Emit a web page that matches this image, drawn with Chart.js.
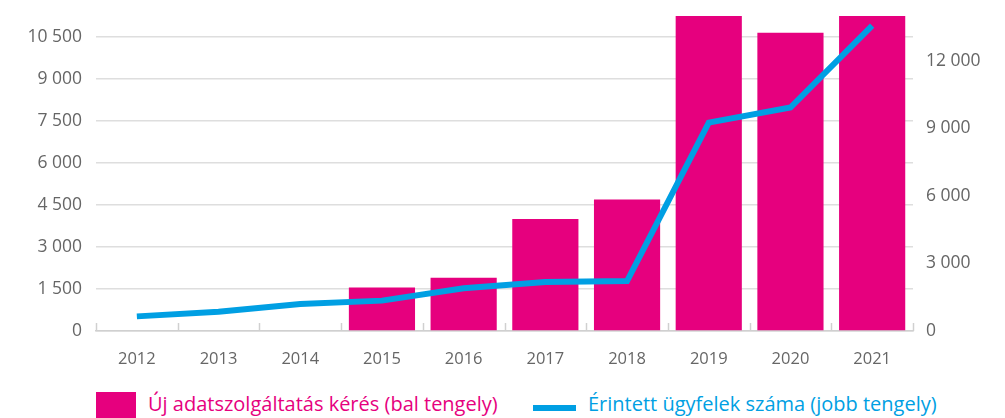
<!DOCTYPE html>
<html>
<head>
<meta charset="utf-8">
<script src="https://cdn.jsdelivr.net/npm/chart.js@4"></script>
<style>
  body { margin: 0; background: #fff; font-family: "Open Sans", sans-serif; }
  #wrap { position: relative; width: 1005px; height: 418px; overflow: hidden; }
  #chart { position: absolute; left: 0; top: 0; }
  .leg { position: absolute; top: 392px; font-size: 20px; white-space: nowrap; }
  .leg .box { position: absolute; }
</style>
</head>
<body>
<div id="wrap">
  <canvas id="chart" width="1005" height="373"></canvas>
  <div class="leg" style="left:96px; color:#e6007e;">
    <span class="box" style="left:0; top:0; width:40px; height:30px; background:#e6007e;"></span>
    <span style="position:absolute; left:52px; top:-2px;">Új adatszolgáltatás kérés (bal tengely)</span>
  </div>
  <div class="leg" style="left:533px; color:#009fe3;">
    <span class="box" style="left:0; top:13px; width:43px; height:6px; background:#009fe3;"></span>
    <span style="position:absolute; left:55px; top:-2px;">Érintett ügyfelek száma (jobb tengely)</span>
  </div>
</div>
<script>
const years = ['2012', '2013', '2014', '2015', '2016', '2017', '2018', '2019', '2020', '2021'];
// bal tengely
const requests = [null, null, null, 1550, 1900, 4000, 4700, 11800, 10650, 12000];
// jobb tengely
const clients = [650, 860, 1200, 1350, 1900, 2180, 2220, 9260, 9930, 13570];
const leftTicks = [0, 1500, 3000, 4500, 6000, 7500, 9000, 10500];
const rightTicks = [0, 3000, 6000, 9000, 12000];

const pink = '#e6007e';
const blue = '#009fe3';

function fmt(v) {
    return String(v).replace(/\B(?=(\d{3})+(?!\d))/g, ' ');
}

// kis jelölők az x tengelyen, felfelé
const upTicks = {
    id: 'upTicks',
    afterDatasetsDraw(chart) {
        const x = chart.scales.x;
        const y0 = chart.scales.y.getPixelForValue(0);
        const ctx = chart.ctx;
        const half = (x.getPixelForValue(1) - x.getPixelForValue(0)) / 2;
        ctx.save();
        ctx.strokeStyle = '#d0d0d0';
        ctx.lineWidth = 1.5;
        for (let i = 0; i <= years.length; i++) {
            const px = Math.round(x.getPixelForValue(i) - half) + 0.5;
            ctx.beginPath();
            ctx.moveTo(px, y0);
            ctx.lineTo(px, y0 - 8);
            ctx.stroke();
        }
        ctx.restore();
    }
};

const tickFont = { family: 'Open Sans', size: 17.5 };

const ctx = document.getElementById('chart').getContext('2d');
new Chart(ctx, {
    data: {
        labels: years,
        datasets: [
            {
                type: 'line',
                label: 'Érintett ügyfelek száma (jobb tengely)',
                data: clients,
                yAxisID: 'y1',
                borderColor: blue,
                borderWidth: 6,
                pointRadius: 0,
                tension: 0,
                order: 0
            },
            {
                type: 'bar',
                label: 'Új adatszolgáltatás kérés (bal tengely)',
                data: requests,
                yAxisID: 'y',
                backgroundColor: pink,
                barPercentage: 0.81,
                categoryPercentage: 1,
                order: 1
            }
        ]
    },
    options: {
        responsive: false,
        animation: false,
        layout: { padding: { top: 16, bottom: 0, left: 0, right: 0 } },
        plugins: { legend: { display: false }, tooltip: { enabled: false } },
        scales: {
            x: {
                offset: true,
                grid: { display: false },
                border: { display: true, color: '#d0d0d0', width: 1.5 },
                ticks: { color: '#666', font: { family: 'Open Sans', size: 16.5 }, padding: 10 },
                afterFit(s) { s.height = 42; s.paddingLeft = 0; s.paddingRight = 0; }
            },
            y: {
                position: 'left',
                min: 0,
                max: 11250,
                afterBuildTicks(s) { s.ticks = leftTicks.map(v => ({ value: v })); },
                grid: { color: '#dedede', lineWidth: 1.5, drawTicks: false },
                border: { display: false },
                ticks: { color: '#666', font: tickFont, padding: 14, callback: v => fmt(v) },
                afterFit(s) { s.width = 96; s.paddingTop = 0; s.paddingBottom = 0; }
            },
            y1: {
                position: 'right',
                min: 0,
                max: 14000,
                afterBuildTicks(s) { s.ticks = rightTicks.map(v => ({ value: v })); },
                grid: { display: false, drawTicks: false },
                border: { display: false },
                ticks: { color: '#666', font: tickFont, padding: 13, callback: v => fmt(v) },
                afterFit(s) { s.width = 92; s.paddingTop = 0; s.paddingBottom = 0; }
            }
        }
    },
    plugins: [upTicks]
});
</script>
</body>
</html>
